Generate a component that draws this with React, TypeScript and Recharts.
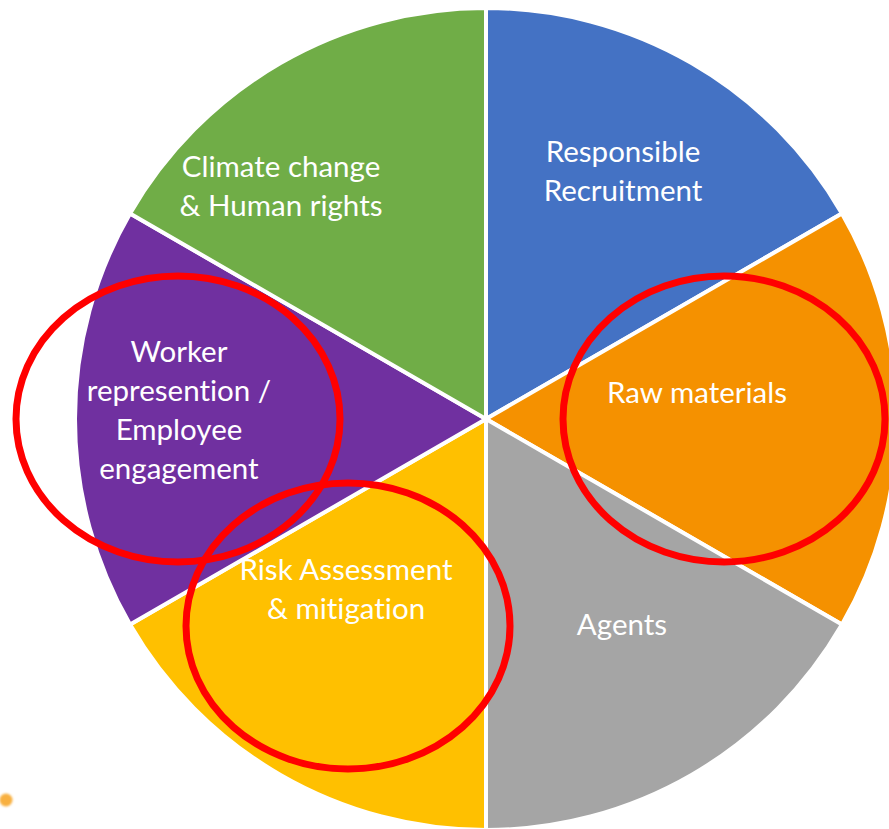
import { Pie, PieChart, Cell } from "recharts";

const topics = [
  "Responsible Recruitment",
  "Raw materials",
  "Agents",
  "Risk Assessment & mitigation",
  "Worker representation / Employee engagement",
  "Climate change & Human rights",
];

// every topic gets an equal share of the wheel
const shares = [1, 1, 1, 1, 1, 1];

const labelLines = [
  ["Responsible", "Recruitment"],
  ["Raw materials"],
  ["Agents"],
  ["Risk Assessment", "& mitigation"],
  ["Worker", "represention /", "Employee", "engagement"],
  ["Climate change", "& Human rights"],
];

const colors = ["#4472C4", "#F59100", "#A5A5A5", "#FFC000", "#7030A0", "#70AD47"];

// label anchor offsets from the pie centre (px)
const labelOffsets: [number, number][] = [
  [137, -250],
  [211, -28],
  [136, 204],
  [-140, 168],
  [-307, -11],
  [-205, -235],
];

// highlighted topics, circled in red: [cx, cy, rx, ry]
const highlights: [number, number, number, number][] = [
  [178, 419, 162, 143],
  [348, 626, 162, 143],
  [724, 419, 161, 143],
];

const W = 889;
const H = 829;
const CX = 486;
const CY = 419;
const R = 411;
const FONT = "Lato, 'Open Sans', sans-serif";
const LINE_H = 39;

const data = topics.map((name, i) => ({ name, value: shares[i] }));

function renderLabel(props: any) {
  const { cx, cy, index } = props;
  const lines = labelLines[index];
  const [dx, dy] = labelOffsets[index];
  const x = cx + dx;
  const top = cy + dy - ((lines.length - 1) * LINE_H) / 2;
  return (
    <text
      key={`label-${index}`}
      x={x}
      y={top}
      fill="#fff"
      textAnchor="middle"
      dominantBaseline="central"
      fontFamily={FONT}
      fontSize={29.5}
      style={{ fontVariantLigatures: "none" }}
    >
      {lines.map((line, j) => (
        <tspan key={j} x={x} y={top + j * LINE_H}>
          {line}
        </tspan>
      ))}
    </text>
  );
}

export default function App() {
  return (
    <div style={{ position: "fixed", left: 0, top: 0, width: W, height: H, background: "#fff" }}>
      <PieChart width={W} height={H} margin={{ top: 0, right: 0, bottom: 0, left: 0 }}>
        <Pie
          data={data}
          dataKey="value"
          nameKey="name"
          cx={CX}
          cy={CY}
          outerRadius={R}
          startAngle={90}
          endAngle={-270}
          stroke="#fff"
          strokeWidth={4}
          label={renderLabel}
          labelLine={false}
          isAnimationActive={false}
        >
          {data.map((d, i) => (
            <Cell key={d.name} fill={colors[i]} />
          ))}
        </Pie>
      </PieChart>
      <svg
        width={W}
        height={H}
        style={{ position: "absolute", left: 0, top: 0, pointerEvents: "none" }}
      >
        <defs>
          <filter id="soft" x="-1" y="-1" width="3" height="3">
            <feGaussianBlur stdDeviation="1.2" />
          </filter>
        </defs>
        {highlights.map(([x, y, rx, ry], i) => (
          <ellipse key={i} cx={x} cy={y} rx={rx} ry={ry} fill="none" stroke="#FF0000" strokeWidth={7} />
        ))}
        <circle cx={6} cy={800} r={6.5} fill="#F8B040" filter="url(#soft)" />
      </svg>
    </div>
  );
}
